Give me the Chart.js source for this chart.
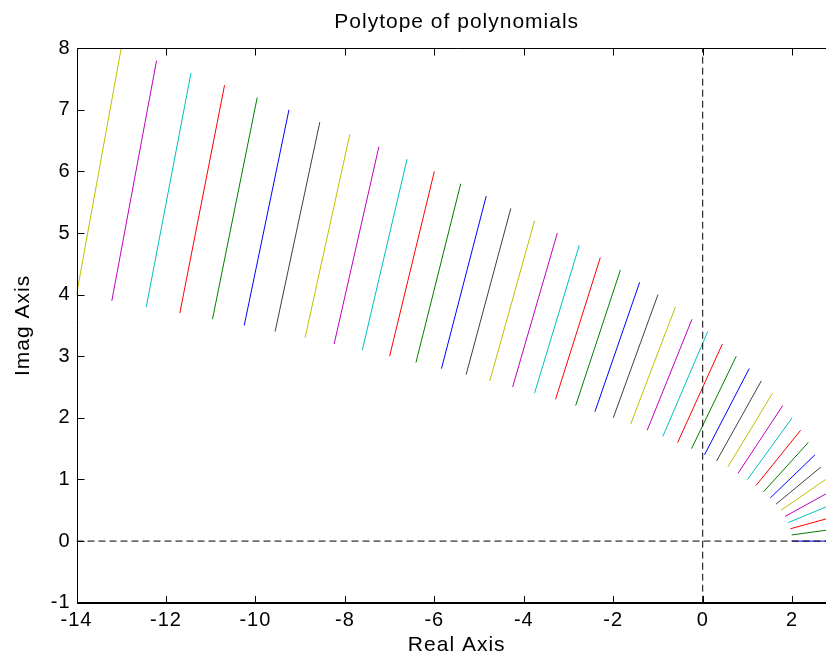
<!DOCTYPE html>
<html><head><meta charset="utf-8">
<script src="https://cdn.jsdelivr.net/npm/chart.js@4/dist/chart.umd.min.js"></script>
<style>
html,body{margin:0;padding:0;background:#fff;overflow:hidden;width:826px;height:658px}
#wrap{position:relative;width:840px;height:658px}
canvas{display:block}
</style></head>
<body><div id="wrap"><canvas id="c" width="840" height="658"></canvas></div>
<script>
const titleText = 'Polytope of polynomials';
const xLabel = 'Real Axis';
const yLabel = 'Imag Axis';
const xTicks = [-14, -12, -10, -8, -6, -4, -2, 0, 2];
const yTicks = [-1, 0, 1, 2, 3, 4, 5, 6, 7, 8];

// segment start points (lower end), left to right
const bottomRe = [-14.00, -13.21, -12.44, -11.69, -10.96, -10.25, -9.56, -8.89, -8.24, -7.61,
  -7.00, -6.41, -5.84, -5.29, -4.76, -4.25, -3.76, -3.29, -2.84, -2.41,
  -2.00, -1.61, -1.24, -0.89, -0.56, -0.25, 0.04, 0.31, 0.56, 0.79,
  1.00, 1.19, 1.36, 1.51, 1.64, 1.75, 1.84, 1.91, 1.96, 1.99, 2.00];
const bottomIm = [4.0, 3.9, 3.8, 3.7, 3.6, 3.5, 3.4, 3.3, 3.2, 3.1,
  3.0, 2.9, 2.8, 2.7, 2.6, 2.5, 2.4, 2.3, 2.2, 2.1,
  2.0, 1.9, 1.8, 1.7, 1.6, 1.5, 1.4, 1.3, 1.2, 1.1,
  1.0, 0.9, 0.8, 0.7, 0.6, 0.5, 0.4, 0.3, 0.2, 0.1, 0.0];
// segment end points (upper end)
const topRe = [-13.00, -12.21, -11.44, -10.69, -9.96, -9.25, -8.56, -7.89, -7.24, -6.61,
  -6.00, -5.41, -4.84, -4.29, -3.76, -3.25, -2.76, -2.29, -1.84, -1.41,
  -1.00, -0.61, -0.24, 0.11, 0.44, 0.75, 1.04, 1.31, 1.56, 1.79,
  2.00, 2.19, 2.36, 2.51, 2.64, 2.75, 2.84, 2.91, 2.96, 2.99, 3.00];
const topIm = [8.0, 7.8, 7.6, 7.4, 7.2, 7.0, 6.8, 6.6, 6.4, 6.2,
  6.0, 5.8, 5.6, 5.4, 5.2, 5.0, 4.8, 4.6, 4.4, 4.2,
  4.0, 3.8, 3.6, 3.4, 3.2, 3.0, 2.8, 2.6, 2.4, 2.2,
  2.0, 1.8, 1.6, 1.4, 1.2, 1.0, 0.8, 0.6, 0.4, 0.2, 0.0];

// dashed reference axes
const refRealSpan = [-14, 3];
const refImagSpan = [-1, 8];

const palette = ['#0000ff', '#008000', '#ff0000', '#00bfbf', '#bf00bf', '#bfbf00', '#404040'];
const FONT = "'Liberation Sans', Arial, Helvetica, sans-serif";

const datasets = [];
datasets.push({
  data: [{x: refRealSpan[0], y: 0}, {x: refRealSpan[1], y: 0}],
  borderColor: '#000', borderWidth: 1, borderDash: [7, 4], pointRadius: 0, fill: false
});
datasets.push({
  data: [{x: 0, y: refImagSpan[0]}, {x: 0, y: refImagSpan[1]}],
  borderColor: '#000', borderWidth: 1, borderDash: [7, 4], pointRadius: 0, fill: false
});
const n = bottomRe.length;
for (let i = 0; i < n; i++) {
  datasets.push({
    data: [{x: bottomRe[i], y: bottomIm[i]}, {x: topRe[i], y: topIm[i]}],
    borderColor: palette[(n - 1 - i) % palette.length],
    borderWidth: 1, pointRadius: 0, fill: false, tension: 0
  });
}

const spacingPlugin = {
  id: 'spacing',
  beforeUpdate(chart) { chart.ctx.letterSpacing = '1px'; },
  beforeLayout(chart) { chart.ctx.letterSpacing = '1px'; },
  beforeDraw(chart) { chart.ctx.letterSpacing = '1px'; }
};

const framePlugin = {
  id: 'frame',
  afterDraw(chart) {
    const {ctx, chartArea: a, scales: {x, y}} = chart;
    ctx.save();
    ctx.strokeStyle = '#000';
    ctx.lineWidth = 1;
    const L = Math.round(a.left) + 0.5;
    const T = Math.round(a.top) + 0.5;
    const B = 603;
    ctx.beginPath();
    ctx.moveTo(L, B); ctx.lineTo(L, T); ctx.lineTo(a.right, T);
    ctx.stroke();
    ctx.lineWidth = 2;
    ctx.beginPath(); ctx.moveTo(L - 0.5, B); ctx.lineTo(a.right, B); ctx.stroke();
    ctx.lineWidth = 1;
    const tl = 7;
    ctx.beginPath();
    xTicks.forEach(v => {
      const px = Math.round(x.getPixelForValue(v)) + 0.5;
      ctx.moveTo(px, B); ctx.lineTo(px, B - tl);
      ctx.moveTo(px, T); ctx.lineTo(px, T + tl);
    });
    yTicks.forEach(v => {
      const py = Math.round(y.getPixelForValue(v)) + 0.5;
      ctx.moveTo(L, py); ctx.lineTo(L + tl, py);
    });
    ctx.stroke();
    ctx.restore();
  }
};

new Chart(document.getElementById('c'), {
  type: 'line',
  data: {datasets},
  options: {
    responsive: false,
    animation: false,
    devicePixelRatio: 1,
    layout: {padding: {left: 0, right: 3.1, top: 0, bottom: 0}},
    plugins: {
      legend: {display: false},
      tooltip: {enabled: false},
      title: {
        display: true, text: titleText, fullSize: false, color: '#000',
        font: {family: FONT, size: 21, weight: 'normal', lineHeight: 1.2},
        padding: {top: 10, bottom: 13}
      }
    },
    scales: {
      x: {
        type: 'linear', position: 'bottom', min: -14, max: 3,
        grid: {display: false, drawTicks: false},
        border: {display: false},
        afterBuildTicks: s => { s.ticks = xTicks.map(v => ({value: v})); },
        afterFit: s => { s.height = 55.3; },
        ticks: {color: '#000', padding: 6, maxRotation: 0, autoSkip: false,
          font: {family: FONT, size: 20}},
        title: {display: true, text: xLabel, color: '#000', padding: {top: 0, bottom: 0},
          font: {family: FONT, size: 21, lineHeight: 1.2}}
      },
      y: {
        type: 'linear', position: 'left', min: -1, max: 8,
        grid: {display: false, drawTicks: false},
        border: {display: false},
        afterBuildTicks: s => { s.ticks = yTicks.map(v => ({value: v})); },
        afterFit: s => { s.width = 76.5; },
        ticks: {color: '#000', padding: 6, autoSkip: false,
          font: {family: FONT, size: 20}},
        title: {display: true, text: yLabel, color: '#000', padding: {top: 11, bottom: 0},
          font: {family: FONT, size: 21, lineHeight: 1.2}}
      }
    }
  },
  plugins: [spacingPlugin, framePlugin]
});
</script>
</body></html>
